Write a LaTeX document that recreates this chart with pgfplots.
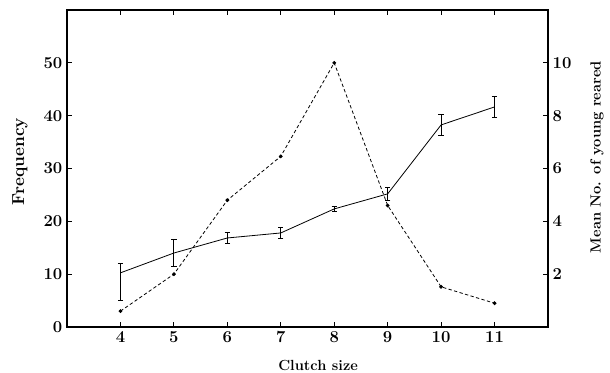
\documentclass[border=0pt]{standalone}
\usepackage{pgfplots}
\pgfplotsset{compat=1.18}
\begin{document}
\begin{tikzpicture}[font=\fontsize{13}{15}\selectfont\bfseries]
\pgfplotsset{every axis/.append style={
  scale only axis, width=360.75pt, height=237.75pt,
  xmin=3, xmax=12,
  tick align=inside,
  /pgf/number format/assume math mode=true,
  ticklabel style={font=\fontsize{12.5}{14}\selectfont\bfseries},
  label style={font=\fontsize{13}{15}\selectfont\bfseries},
  major tick length=4pt,
  axis line style={line width=0.9pt},
  every tick/.style={black, line width=0.6pt},
}}
\begin{axis}[name=ax,
  ymin=0, ymax=60,
  xtick={4,...,11}, xtick pos=both,
  ytick={0,10,...,50}, ytick pos=left,
  xlabel={Clutch size},
  ylabel={Frequency},
  xlabel style={at={(axis description cs:0.522,-0.12)}, anchor=center, font=\fontsize{11}{13}\selectfont\bfseries},
  ylabel style={at={(axis description cs:-0.0977,0.522)}, anchor=center},
]
\addplot[black, line width=0.6pt, dash pattern=on 2.5pt off 1.8pt, mark=*, mark size=1.1pt, mark options={solid}]
coordinates {(4,3) (5,10) (6,24) (7,32.3) (8,50) (9,23) (10,7.6) (11,4.5)};
\end{axis}
\begin{axis}[
  axis x line=none, axis y line*=right,
  ymin=0, ymax=12,
  ytick={2,4,...,10},
  ylabel={Mean No. of young reared},
  ylabel style={at={(axis description cs:1.102,0.536)}, anchor=center, font=\fontsize{11}{13}\selectfont\bfseries},
]
\addplot[black, line width=0.6pt, mark=none,
  error bars/.cd, y dir=both, y explicit,
  error bar style={line width=0.6pt},
  error mark options={rotate=90, mark size=2pt, line width=0.6pt}]
coordinates {
 (4,2.05) += (0,0.37) -= (0,1.03)
 (5,2.8) +- (0,0.5)
 (6,3.37) +- (0,0.2)
 (7,3.56) +- (0,0.2)
 (8,4.47) +- (0,0.1)
 (9,5.04) +- (0,0.25)
 (10,7.65) +- (0,0.38)
 (11,8.33) +- (0,0.4)
};
\end{axis}
\pgfresetboundingbox
\useasboundingbox ([shift={(-50.25pt,-34.5pt)}]ax.south west) rectangle ([shift={(46.5pt,7.5pt)}]ax.north east);
\end{tikzpicture}
\end{document}
